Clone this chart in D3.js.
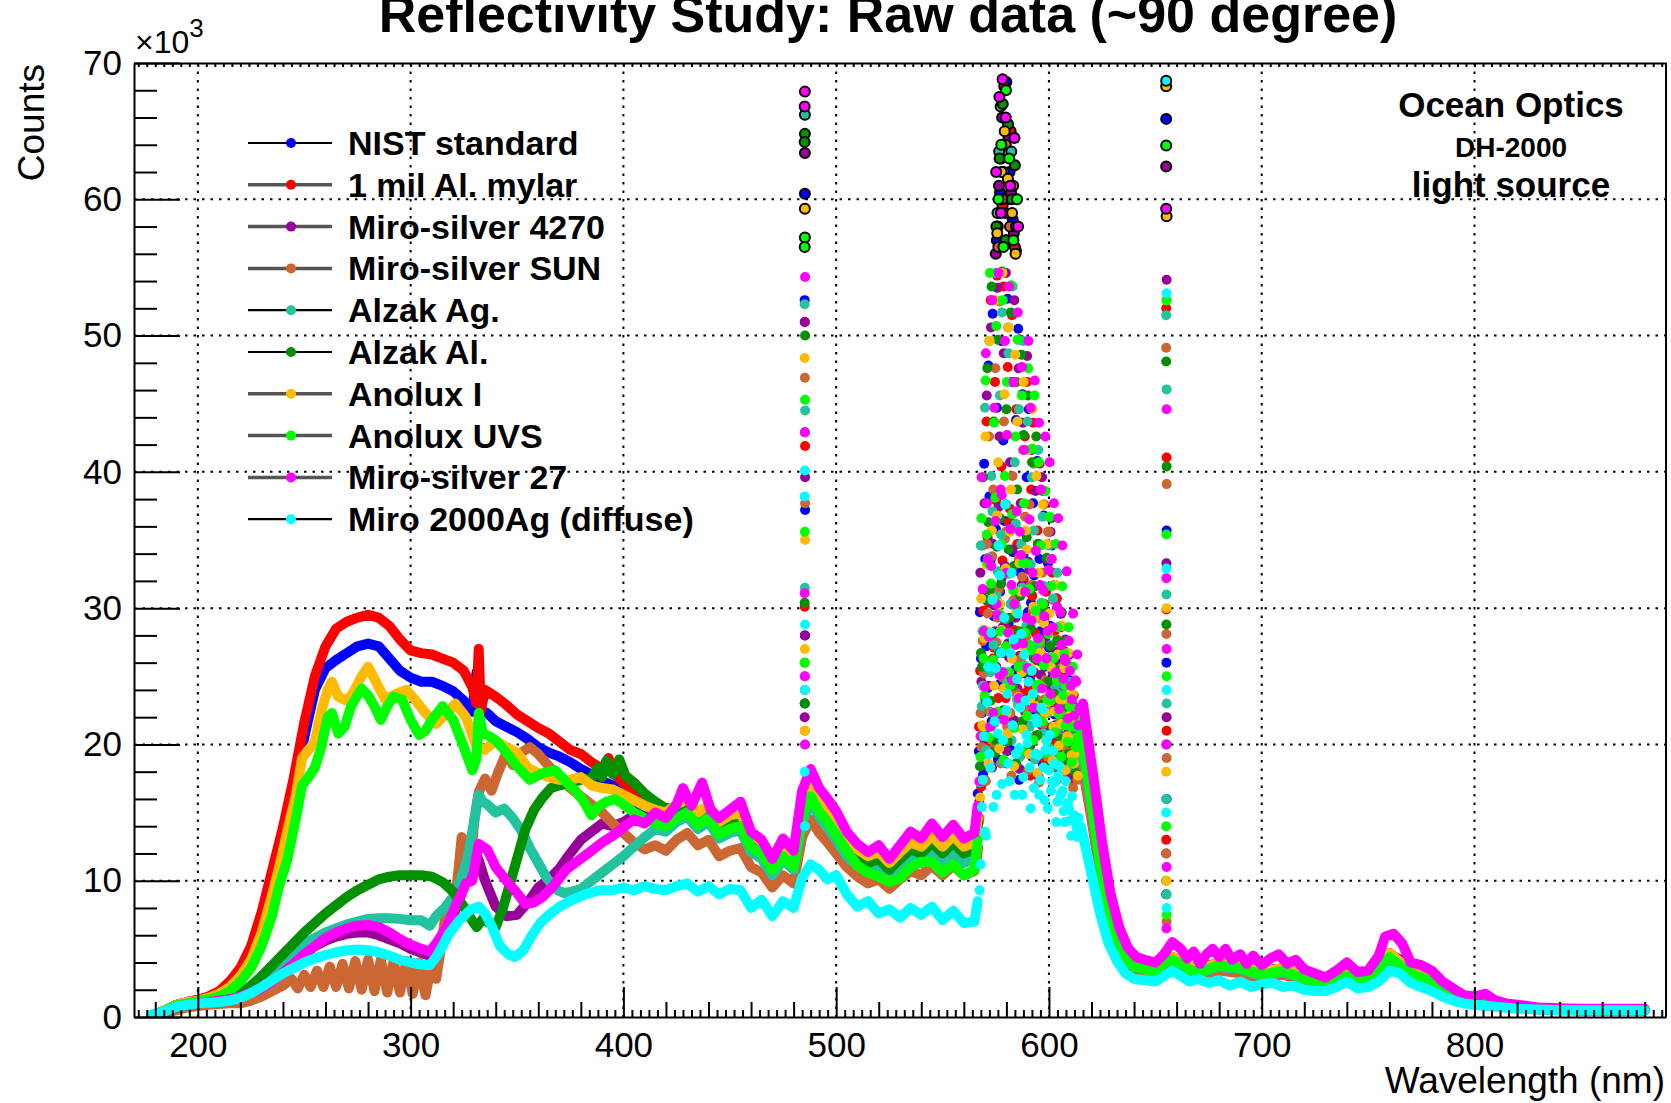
<!DOCTYPE html>
<html>
<head>
<meta charset="utf-8">
<script src="https://cdn.jsdelivr.net/npm/d3@7"></script>
<style>
  body { margin: 0; background: #fff; }
  svg { display: block; }
  text { font-family: "Liberation Sans", Arial, Helvetica, sans-serif; }
</style>
</head>
<body>
<svg id="chart"></svg>
<script>
const width = 1671, height = 1103;
const margin = { top: 63, right: 5, bottom: 86, left: 134 };

// Wavelength range (nm) and counts range (x10^3)
const xDomain = [170, 890];
const yDomain = [0, 70];
const xMajorTicks = [200, 300, 400, 500, 600, 700, 800];
const yMajorTicks = [0, 10, 20, 30, 40, 50, 60, 70];

const seriesNames = ["NIST standard", "1 mil Al. mylar", "Miro-silver 4270", "Miro-silver SUN",
  "Alzak Ag.", "Alzak Al.", "Anolux I", "Anolux UVS", "Miro-silver 27", "Miro 2000Ag (diffuse)"];
const seriesColors = ["#0000ff", "#ff0000", "#990099", "#cc6633", "#22c39f",
  "#009000", "#ffbb00", "#00ff00", "#ff00ff", "#00ffff"];

// Smooth parts of each spectrum: [wavelength nm, counts x10^3]; null = gap (saturated band)
const nist = [[178,0.1],[185,0.5],[190,0.9],[195,1.1],[200,1.25],[205,1.45],[210,1.8],[215,2.4],[220,3.3],[225,4.8],[230,7.0],[235,9.9],[240,13.0],[245,16.6],[250,20.5],[255,24.0],[260,25.6],[265,26.2],[270,26.7],[275,27.2],[280,27.4],[285,27.2],[290,26.3],[295,25.4],[300,24.9],[305,24.6],[310,24.6],[315,24.3],[320,23.9],[325,23.2],[329,22.4],[331,25.3],[333,22.5],[336,22.3],[340,21.7],[345,21.3],[350,20.9],[355,20.4],[360,19.8],[365,19.4],[370,19.1],[375,18.7],[380,18.2],[385,17.8],[390,17.3],[395,17.0],[400,16.5],[405,15.8],[410,15.3],[415,14.8],[420,14.6],[425,15.0],[430,15.3],[435,14.5],[440,14.9],[445,13.8],[450,14.1],[455,14.3],[460,12.8],[465,12.3],[470,11.0],[475,12.1],[480,11.3],[484,15.2],[488,16.6],[492,15.5],[496,14.7],[500,13.8],[505,12.6],[510,11.8],[515,11.3],[520,11.6],[525,10.8],[530,11.6],[535,12.3],[540,12.0],[545,12.8],[550,12.0],[555,12.8],[560,12.0],[565,12.3],[566.5,14],
  null,
  [615,21.5],[620,16.5],[624,12.0],[628,8.3],[632,6.0],[636,4.6],[640,3.9],[645,3.7],[650,3.5],[654,4.2],[658,4.3],[662,4.0],[666,3.6],[670,3.4],[675,3.8],[680,3.9],[685,3.5],[690,3.7],[695,3.2],[700,3.2],[705,3.5],[710,3.5],[715,2.9],[720,2.9],[725,2.6],[730,2.5],[735,3.0],[740,3.1],[745,2.7],[750,2.8],[755,3.5],[760,4.6],[765,4.2],[770,3.3],[775,3.0],[780,2.7],[785,2.2],[790,1.7],[795,1.4],[800,1.3],[810,1.0],[820,0.8],[830,0.6],[840,0.55],[850,0.5],[860,0.5],[870,0.5],[880,0.5]];

const mylar = [[178,0.1],[185,0.5],[190,0.9],[195,1.1],[200,1.25],[205,1.5],[210,1.9],[215,2.6],[220,3.6],[225,5.2],[230,7.7],[235,10.8],[240,13.9],[245,17.5],[250,21.6],[255,25.0],[260,27.2],[265,28.5],[270,29.0],[275,29.3],[280,29.5],[285,29.3],[290,28.7],[295,27.7],[300,26.9],[305,26.7],[310,26.6],[315,26.3],[320,26.0],[325,25.4],[329,24.2],[331,23.0],[332,27.0],[333,22.5],[335,24.0],[340,23.5],[345,22.9],[350,22.2],[355,21.7],[360,21.2],[365,20.8],[370,20.2],[375,19.6],[380,19.3],[385,18.7],[390,18.2],[393,19.0],[396,17.8],[400,17.2],[405,16.4],[410,15.9],[415,15.4],[420,15.1],[425,15.5],[430,15.8],[435,15.0],[440,15.4],[445,14.3],[450,14.6],[455,14.8],[460,13.3],[465,12.8],[470,11.4],[475,12.5],[480,11.7],[484,15.7],[488,17.2],[492,16.0],[496,15.2],[500,14.3],[505,13.0],[510,12.2],[515,11.7],[520,12.0],[525,11.2],[530,12.0],[535,12.7],[540,12.4],[545,13.2],[550,12.4],[555,13.2],[560,12.4],[565,12.7],[566.5,14.5],
  null,
  [615,22.0],[620,17.0],[624,12.4],[628,8.6],[632,6.2],[636,4.8],[640,4.0],[645,3.8],[650,3.6],[654,4.3],[658,4.4],[662,4.1],[666,3.7],[670,3.5],[680,4.0],[690,3.8],[700,3.3],[710,3.6],[720,3.0],[730,2.6],[740,3.2],[750,2.9],[760,4.7],[770,3.4],[780,2.8],[790,1.8],[800,1.3],[810,1.0],[820,0.8],[830,0.6],[840,0.55],[850,0.5],[860,0.5],[870,0.5],[880,0.5]];

const miro4270 = [[178,0.1],[185,0.4],[190,0.7],[195,0.9],[200,1.0],[205,1.1],[210,1.2],[215,1.3],[220,1.5],[225,1.8],[230,2.2],[235,2.7],[240,3.3],[245,4.0],[250,4.6],[255,5.2],[260,5.6],[265,5.9],[270,6.1],[275,6.2],[280,6.2],[285,6.0],[290,5.7],[295,5.4],[300,5.0],[305,4.7],[309,4.5],[313,5.2],[317,6.3],[321,7.8],[325,9.5],[328,11.2],[330,12.2],[332,11.5],[335,10.0],[340,8.1],[345,7.4],[350,7.5],[355,8.4],[360,9.5],[365,10.1],[370,10.9],[375,12.0],[380,13.0],[385,13.6],[390,14.2],[395,14.0],[400,14.3],[405,14.8],[410,14.5],[415,14.6],[420,14.2],[425,14.8],[430,15.2],[435,14.3],[440,14.8],[445,13.6],[450,14.0],[455,14.2],[460,12.6],[465,12.1],[470,10.8],[475,11.9],[480,11.1],[484,14.8],[488,16.3],[492,15.2],[496,14.4],[500,13.5],[505,12.3],[510,11.5],[515,11.0],[520,11.3],[525,10.5],[530,11.3],[535,12.0],[540,11.7],[545,12.5],[550,11.7],[555,12.5],[560,11.7],[565,12.0],[566.5,13.5],
  null,
  [615,21.0],[620,16.0],[624,11.5],[628,8.0],[632,5.8],[636,4.5],[640,3.8],[645,3.6],[650,3.4],[654,4.1],[658,4.2],[662,3.9],[666,3.5],[670,3.3],[680,3.8],[690,3.6],[700,3.1],[710,3.4],[720,2.8],[730,2.5],[740,3.0],[750,2.8],[760,4.5],[770,3.2],[780,2.6],[790,1.7],[800,1.2],[810,0.95],[820,0.75],[830,0.6],[840,0.55],[850,0.5],[860,0.5],[870,0.5],[880,0.5]];

const miroSun = [[178,0.1],[185,0.3],[190,0.5],[195,0.7],[200,0.8],[205,0.9],[210,0.95],[215,1.0],[220,1.0],[225,1.2],[230,1.5],[235,1.9],[240,2.3],[244,2.8],[247,2.1],[250,3.1],[253,2.2],[256,3.4],[259,2.2],[262,3.7],[265,2.2],[268,3.9],[271,2.1],[274,4.1],[277,2.0],[280,4.2],[283,1.9],[286,4.2],[289,1.8],[292,4.1],[295,1.8],[298,4.1],[301,1.7],[304,4.0],[307,1.6],[310,4.0],[312,2.8],[314,4.8],[317,8.2],[320,8.8],[322,10.0],[324,13.2],[326,12.8],[328,11.0],[330,14.5],[332,16.5],[335,17.5],[338,16.6],[341,17.9],[345,19.4],[348,18.5],[352,19.4],[356,19.8],[360,19.3],[365,18.4],[370,17.6],[375,16.8],[380,16.2],[385,15.6],[390,15.0],[395,14.2],[400,13.5],[405,12.8],[410,12.3],[415,12.6],[420,12.2],[425,13.0],[430,13.5],[435,12.6],[440,13.0],[445,11.8],[450,12.2],[455,12.4],[460,11.0],[465,10.6],[470,9.5],[475,10.4],[480,9.8],[484,13.2],[488,14.5],[492,13.5],[496,12.8],[500,12.0],[505,11.0],[510,10.3],[515,9.8],[520,10.1],[525,9.4],[530,10.1],[535,10.7],[540,10.4],[545,11.1],[550,10.4],[555,11.1],[560,10.4],[565,10.7],[566.5,12.0],
  null,
  [615,19.0],[620,14.5],[624,10.4],[628,7.2],[632,5.3],[636,4.1],[640,3.4],[645,3.2],[650,3.1],[654,3.7],[658,3.8],[662,3.5],[666,3.2],[670,3.0],[680,3.4],[690,3.2],[700,2.8],[710,3.1],[720,2.6],[730,2.2],[740,2.8],[750,2.5],[760,4.0],[770,2.9],[780,2.4],[790,1.5],[800,1.1],[810,0.9],[820,0.7],[830,0.55],[840,0.5],[850,0.5],[860,0.5],[870,0.5],[880,0.5]];

const alzakAg = [[178,0.1],[185,0.4],[190,0.7],[195,0.9],[200,1.0],[205,1.1],[210,1.2],[215,1.4],[220,1.7],[225,2.2],[230,2.8],[235,3.5],[240,4.2],[245,4.8],[250,5.4],[255,5.8],[260,6.2],[265,6.5],[270,6.8],[275,7.0],[280,7.2],[285,7.25],[290,7.25],[295,7.2],[300,7.1],[305,7.1],[309,6.7],[312,7.4],[316,8.0],[320,8.8],[324,10.2],[327,11.8],[330,14.5],[332,16.3],[334,15.8],[336,15.6],[340,15.0],[344,15.3],[348,14.6],[352,13.7],[356,12.4],[360,11.3],[364,10.2],[368,9.4],[372,9.1],[376,9.2],[380,9.4],[385,10.0],[390,10.6],[395,11.2],[400,11.8],[405,12.5],[410,13.2],[415,13.8],[420,13.6],[425,14.3],[430,14.7],[435,13.8],[440,14.3],[445,13.1],[450,13.5],[455,13.7],[460,12.1],[465,11.6],[470,10.4],[475,11.5],[480,10.8],[484,14.3],[488,15.8],[492,14.7],[496,13.9],[500,13.0],[505,11.8],[510,11.1],[515,10.6],[520,10.9],[525,10.2],[530,10.9],[535,11.6],[540,11.3],[545,12.0],[550,11.3],[555,12.0],[560,11.3],[565,11.6],[566.5,13.5],
  null,
  [615,20.5],[620,15.5],[624,11.2],[628,7.8],[632,5.7],[636,4.4],[640,3.7],[645,3.5],[650,3.3],[654,4.0],[658,4.1],[662,3.8],[666,3.4],[670,3.2],[680,3.7],[690,3.5],[700,3.0],[710,3.3],[720,2.8],[730,2.4],[740,2.9],[750,2.7],[760,4.3],[770,3.1],[780,2.5],[790,1.6],[800,1.2],[810,0.95],[820,0.75],[830,0.6],[840,0.5],[850,0.5],[860,0.5],[870,0.5],[880,0.5]];

const alzakAl = [[178,0.1],[185,0.4],[190,0.7],[195,0.9],[200,1.0],[205,1.1],[210,1.2],[215,1.4],[220,1.8],[225,2.3],[230,3.0],[235,3.8],[240,4.6],[245,5.4],[250,6.2],[255,6.9],[260,7.6],[265,8.2],[270,8.8],[275,9.3],[280,9.7],[285,10.1],[290,10.3],[295,10.4],[300,10.4],[305,10.4],[310,10.3],[315,9.9],[320,9.2],[325,8.1],[328,7.3],[331,6.6],[334,7.2],[337,6.9],[340,6.6],[343,7.8],[346,9.4],[350,11.6],[354,13.8],[358,15.2],[362,16.1],[366,16.8],[370,17.0],[375,17.2],[380,17.4],[385,17.5],[388,18.3],[390,17.6],[392,18.8],[395,17.8],[398,18.9],[401,17.7],[405,17.2],[410,16.4],[415,15.8],[420,15.3],[425,15.4],[430,15.6],[435,14.8],[440,15.1],[445,13.9],[450,14.3],[455,14.4],[460,12.9],[465,12.4],[470,11.1],[475,12.2],[480,11.4],[484,15.2],[488,16.7],[492,15.5],[496,14.7],[500,13.8],[505,12.6],[510,11.8],[515,11.3],[520,11.6],[525,10.8],[530,11.6],[535,12.3],[540,12.0],[545,12.8],[550,12.0],[555,12.8],[560,12.0],[565,12.3],[566.5,14.2],
  null,
  [615,21.5],[620,16.5],[624,12.0],[628,8.3],[632,6.0],[636,4.6],[640,3.9],[645,3.7],[650,3.5],[654,4.2],[658,4.3],[662,4.0],[666,3.6],[670,3.4],[680,3.9],[690,3.7],[700,3.2],[710,3.5],[720,2.9],[730,2.5],[740,3.1],[750,2.8],[760,4.6],[770,3.3],[780,2.7],[790,1.7],[800,1.3],[810,1.0],[820,0.8],[830,0.6],[840,0.55],[850,0.5],[860,0.5],[870,0.5],[880,0.5]];

const anoluxI = [[178,0.1],[185,0.5],[190,0.9],[195,1.1],[200,1.2],[205,1.4],[210,1.7],[215,2.2],[220,3.0],[225,4.2],[230,6.2],[235,9.0],[239,11.5],[243,14.3],[246,16.2],[249,19.0],[252,19.6],[255,20.2],[258,22.4],[261,24.0],[263,24.6],[266,23.5],[270,23.2],[273,23.8],[277,25.0],[280,25.7],[284,24.5],[288,23.3],[293,23.7],[298,24.0],[302,23.3],[307,22.3],[312,21.5],[317,22.3],[321,23.0],[326,22.0],[331,19.8],[335,19.6],[340,20.3],[345,19.8],[350,19.4],[355,18.3],[360,17.9],[365,17.6],[370,17.4],[375,17.4],[380,17.6],[385,17.0],[390,16.8],[395,16.7],[400,16.3],[405,15.9],[410,15.5],[415,15.2],[420,15.0],[425,15.6],[430,16.0],[435,15.0],[440,15.6],[445,14.3],[450,14.8],[455,15.0],[460,13.4],[465,12.9],[470,11.5],[475,12.6],[480,11.8],[484,15.8],[488,17.3],[492,16.1],[496,15.3],[500,14.4],[505,13.1],[510,12.3],[515,11.8],[520,12.1],[525,11.3],[530,12.1],[535,12.8],[540,12.5],[545,13.3],[550,12.5],[555,13.3],[560,12.5],[565,12.8],[566.5,14.6],
  null,
  [615,21.8],[620,16.8],[624,12.2],[628,8.5],[632,6.1],[636,4.7],[640,4.0],[645,3.8],[650,3.6],[654,4.3],[658,4.4],[662,4.1],[666,3.7],[670,3.5],[680,4.0],[690,3.8],[700,3.3],[710,3.6],[720,3.0],[730,2.6],[740,3.2],[750,2.9],[760,4.7],[770,3.4],[780,2.8],[790,1.8],[800,1.3],[810,1.0],[820,0.8],[830,0.6],[840,0.55],[850,0.5],[860,0.5],[870,0.5],[880,0.5]];

const anoluxUvs = [[178,0.1],[185,0.5],[190,0.85],[195,1.0],[200,1.15],[205,1.3],[210,1.5],[215,1.9],[220,2.6],[225,3.6],[230,5.2],[235,7.5],[238,9.5],[242,11.5],[246,14.5],[249,17.0],[252,17.6],[255,18.3],[258,19.8],[261,22.0],[263,22.3],[266,20.8],[269,21.3],[272,22.8],[277,24.1],[280,23.6],[283,22.8],[286,21.8],[289,22.8],[292,23.5],[296,23.3],[300,21.8],[304,20.7],[307,21.0],[310,21.8],[315,22.8],[320,21.8],[325,19.8],[329,18.1],[331,19.0],[332,22.3],[334,20.8],[337,20.6],[340,20.3],[344,19.6],[350,18.4],[356,17.4],[362,17.9],[368,18.1],[374,17.1],[378,16.5],[381,15.9],[385,14.8],[388,15.4],[392,15.8],[396,16.0],[400,15.6],[405,15.0],[410,14.6],[415,14.2],[420,14.0],[425,14.6],[430,15.0],[435,14.1],[440,14.6],[445,13.4],[450,13.8],[455,14.0],[460,12.5],[465,12.0],[470,10.8],[475,11.8],[480,11.0],[484,14.8],[488,16.2],[492,15.1],[496,14.3],[500,13.4],[505,12.2],[510,11.1],[515,10.6],[520,10.3],[525,9.9],[530,10.2],[535,11.0],[540,11.4],[545,11.4],[550,10.6],[555,11.2],[560,10.4],[565,10.8],[566.5,13.0],
  null,
  [615,21.0],[620,16.0],[624,11.4],[628,8.0],[632,5.8],[636,4.4],[640,3.7],[645,3.5],[650,3.3],[654,4.0],[658,4.2],[662,3.9],[666,3.5],[670,3.3],[680,3.8],[690,3.6],[700,3.1],[710,3.4],[720,2.8],[730,2.5],[740,3.0],[750,2.8],[760,4.4],[770,3.2],[780,2.6],[790,1.7],[800,1.2],[810,0.95],[820,0.75],[830,0.6],[840,0.55],[850,0.5],[860,0.5],[870,0.5],[880,0.5]];

const miro27 = [[178,0.1],[185,0.4],[190,0.75],[195,0.9],[200,1.0],[205,1.1],[210,1.2],[215,1.3],[220,1.5],[225,1.8],[230,2.1],[235,2.6],[240,3.2],[245,3.9],[250,4.6],[255,5.2],[260,5.8],[265,6.2],[270,6.5],[275,6.7],[280,6.75],[285,6.6],[290,6.2],[295,5.7],[300,5.3],[305,5.0],[309,4.8],[312,5.4],[317,6.6],[321,8.1],[326,9.8],[329,10.0],[332,12.7],[336,12.3],[340,11.0],[345,10.0],[350,9.1],[354,8.3],[358,8.4],[362,8.8],[367,9.6],[373,10.8],[379,11.5],[385,12.2],[390,12.8],[395,13.3],[400,13.9],[405,14.5],[410,14.2],[415,15.0],[420,14.6],[425,15.6],[428,16.8],[432,15.5],[437,17.2],[441,15.2],[445,14.6],[450,15.2],[455,15.8],[460,13.6],[465,13.0],[470,11.6],[475,13.1],[480,12.2],[484,16.6],[488,18.2],[492,16.8],[496,16.0],[500,15.1],[505,13.6],[510,12.7],[515,12.1],[520,12.6],[525,11.6],[530,12.6],[535,13.6],[540,13.1],[545,14.2],[550,13.2],[555,14.1],[560,13.1],[565,13.5],[566.5,15.5],
  null,
  [616,23.0],[621,17.5],[625,12.8],[629,9.0],[633,6.6],[637,5.1],[641,4.4],[645,4.2],[650,4.0],[654,4.6],[658,5.5],[662,5.0],[665,4.3],[668,4.8],[671,3.9],[674,4.6],[677,5.0],[680,4.4],[683,5.0],[686,4.2],[690,4.6],[693,3.9],[696,4.5],[700,3.8],[704,4.3],[708,4.6],[712,3.9],[716,4.2],[720,3.5],[725,3.2],[730,2.9],[735,3.4],[740,4.0],[745,3.3],[750,3.4],[755,4.5],[758,5.9],[762,6.1],[766,5.4],[770,4.0],[775,3.8],[780,3.4],[785,2.6],[790,2.1],[795,1.6],[800,1.5],[805,1.7],[810,1.2],[815,1.0],[820,0.9],[830,0.7],[840,0.65],[850,0.6],[860,0.6],[870,0.6],[880,0.6]];

const miro2000 = [[178,0.15],[185,0.45],[190,0.75],[195,0.9],[200,1.0],[205,1.05],[210,1.1],[215,1.2],[220,1.4],[225,1.75],[230,2.2],[235,2.7],[240,3.2],[245,3.6],[250,4.0],[255,4.3],[260,4.55],[265,4.75],[270,4.9],[275,4.95],[280,4.9],[285,4.75],[290,4.5],[295,4.2],[300,4.0],[305,3.85],[309,3.8],[312,4.4],[315,5.2],[318,6.1],[323,7.1],[328,7.85],[332,8.1],[335,7.6],[338,6.7],[342,5.2],[346,4.6],[349,4.4],[353,4.9],[357,6.0],[361,6.9],[365,7.5],[370,8.1],[376,8.6],[382,9.0],[389,9.3],[395,9.3],[400,9.5],[405,9.3],[410,9.6],[415,9.4],[420,9.3],[425,9.6],[430,9.8],[435,9.2],[440,9.6],[445,9.0],[450,9.4],[455,9.3],[460,8.0],[465,8.6],[470,7.4],[475,8.5],[480,8.0],[484,10.2],[488,11.2],[492,10.8],[496,10.1],[500,10.4],[505,9.0],[510,8.1],[515,8.5],[520,7.6],[525,7.9],[530,7.3],[535,8.0],[540,7.5],[545,8.1],[550,7.1],[555,7.8],[560,6.9],[565,7.0],[566.5,8.5],
  null,
  [615,14.0],[620,10.5],[624,7.6],[628,5.4],[632,4.1],[636,3.2],[640,2.8],[645,2.7],[650,2.6],[654,3.0],[658,3.4],[662,3.0],[666,2.6],[670,2.8],[675,2.5],[680,2.7],[685,2.3],[690,2.6],[695,2.2],[700,2.4],[705,2.5],[710,2.2],[715,2.3],[720,2.0],[725,1.9],[730,1.9],[735,2.2],[740,2.6],[745,2.1],[750,2.2],[755,2.6],[760,3.4],[765,3.2],[770,2.5],[775,2.2],[780,1.9],[785,1.5],[790,1.2],[795,1.0],[800,0.9],[810,0.75],[820,0.6],[830,0.55],[840,0.5],[850,0.5],[860,0.5],[870,0.5],[880,0.5]];

// Scattered readings in the saturated band (x10^3 counts), at these wavelengths
const cloudWavelengthsA = [567,568,569,570,571,572,573,574,575,576,577,578,579,580,581,582,583,584,585,586,587,588,589,590,
  591,592,593,594,595,596,597,598,599,600,601,602,603,604,605,606,607,608,609,610,611,612,613,614];
const cloudWavelengthsB = [567.5,568.5,569.5,570.5,571.5,572.5,573.5,574.5,575.5,576.5,577.5,578.5,579.5,580.5,581.5,582.5,
  583.5,584.5,585.5,586.5,587.5,588.5,589.5,590.5,591.5,592.5,593.5,594.5,595.5,596.5,597.5,598.5,599.5,600.5,601.5,602.5,
  603.5,604.5,605.5,606.5,607.5,608.5,609.5,610.5,611.5,612.5,613.5];

const nistCloudA = [16.4,29.7,22.3,40.6,27.2,47.8,33.5,51.6,38.3,44.7,24.4,49.6,42.3,29.2,52.7,36.4,46.6,21.3,43.8,50.5,32.6,45.7,25.2,39.6,44.6,30.4,37.7,22.5,40.8,33.6,27.4,36.8,20.6,33.3,28.7,34.6,22.2,30.7,26.4,29.6,19.5,26.8,23.3,24.7,18.4,22.8,20.2,21.6];
const mylarCloudA = [14.3,25.4,34.6,20.3,43.7,30.4,52.6,26.3,46.6,54.4,31.3,40.4,53.6,23.4,47.7,37.3,51.5,28.4,44.6,33.3,49.7,27.4,42.6,46.6,24.3,38.7,43.6,28.2,35.7,40.6,21.4,37.6,31.2,35.6,23.2,32.6,28.3,30.7,20.4,28.6,25.3,27.6,21.3,25.7,19.3,23.6,22.2,20.7];
const miro4270CloudA = [13.3,32.6,18.4,37.7,45.6,24.3,50.6,34.7,28.3,53.5,42.6,32.2,48.7,54.6,27.4,40.7,34.3,52.6,26.3,47.6,37.7,43.6,22.4,48.5,32.8,41.6,26.4,38.6,34.7,24.3,39.6,30.3,33.6,21.2,35.6,25.3,31.7,26.8,22.2,29.6,24.3,27.7,20.3,26.6,22.7,24.6,18.4,21.8];
const miroSunCloudA = [12.4,22.3,27.6,17.4,34.7,42.6,21.3,38.7,47.6,29.3,52.5,25.3,43.7,35.6,50.6,22.3,39.7,30.3,46.6,33.7,26.3,41.6,36.7,21.3,37.6,31.7,40.6,19.3,34.7,27.3,32.6,23.3,29.7,35.6,19.4,30.6,24.3,27.7,21.3,25.6,22.7,18.3,24.6,20.3,21.7,19.2,20.6,18.8];
const alzakAgCloudA = [15.3,34.6,24.3,44.7,19.3,49.6,39.7,27.3,54.6,32.7,45.6,51.7,25.3,37.6,48.7,30.3,53.6,40.7,23.3,44.6,34.7,49.6,28.3,43.7,21.3,39.6,35.7,29.3,41.6,24.3,36.7,31.6,20.3,34.6,27.3,30.7,24.3,32.6,21.3,28.7,25.6,22.3,26.7,20.3,24.6,21.7,20.8,19.6];
const alzakAlCloudA = [14.3,26.7,39.6,23.3,47.6,31.3,53.6,43.7,20.3,49.7,36.6,54.7,29.3,44.6,34.3,51.7,24.3,46.6,38.7,28.3,48.6,42.7,23.3,45.6,31.3,40.7,26.3,42.6,34.7,22.3,38.6,29.3,33.7,26.3,36.6,21.3,31.7,27.6,25.3,29.7,22.3,27.6,19.3,25.7,23.6,21.3,22.7,20.6];
const anoluxICloudA = [13.3,30.7,21.3,42.6,28.3,49.6,35.7,24.3,52.6,40.7,30.3,54.6,45.7,22.3,50.6,38.7,27.3,48.6,43.7,33.3,25.3,46.6,35.7,41.6,23.3,44.6,29.3,39.7,32.6,26.3,37.6,22.3,34.7,29.6,33.6,21.3,31.7,26.6,23.3,28.7,25.6,20.3,26.7,21.6,23.7,19.3,22.6,20.6];
const anoluxUvsCloudA = [15.3,36.6,26.3,46.7,33.3,54.6,22.3,43.6,50.7,34.6,28.3,52.6,39.7,46.6,25.3,53.7,31.3,42.6,49.7,23.3,45.6,37.7,33.3,47.6,27.3,41.7,45.6,24.3,40.7,34.6,30.3,38.6,23.3,36.7,31.6,26.3,34.7,28.6,22.3,31.6,26.7,24.3,28.6,21.3,25.7,22.6,20.3,21.7];
const miro27CloudA = [17.3,39.6,28.3,48.7,33.6,21.3,52.6,44.7,30.3,54.6,38.7,25.3,49.6,42.7,53.6,31.7,46.6,27.3,51.7,35.6,47.7,41.6,29.3,49.6,44.7,32.6,46.7,26.3,43.6,38.7,31.3,42.6,28.3,40.7,33.6,37.7,25.3,36.6,29.7,34.6,26.3,32.7,27.6,24.3,29.6,24.7,26.6,22.7];
const miro2000CloudA = [9.3,15.4,20.6,13.3,25.7,18.3,30.6,21.7,16.3,34.6,26.7,20.3,37.6,23.7,17.3,32.6,27.7,19.3,29.6,22.7,16.3,26.6,20.7,24.6,15.3,23.7,19.3,21.6,16.3,22.7,18.3,19.6,15.3,20.7,17.3,18.6,14.3,17.7,16.3,16.6,14.3,15.7,15.2,13.3,14.7,14.3,13.2,13.8];

const nistCloudB = [19.5,26.3,17.8,33.6,24.1,38.2,21.7,29.4,35.8,18.9,31.2,26.7,36.4,22.3,28.9,19.6,34.1,25.5,30.8,17.4,27.6,33.9,21.2,29.7,24.8,19.1,32.4,26.2,21.9,28.3,18.6,25.7,22.8,27.1,19.3,24.6,21.4,23.9,17.9,22.5,20.3,21.8,18.4,20.7,19.2,18.1,17.6];
const mylarCloudB = [21.3,16.9,29.8,25.4,35.2,19.7,31.6,27.1,37.9,23.4,20.2,33.5,28.8,18.6,36.3,24.9,30.4,21.7,34.7,26.5,19.4,32.1,23.8,28.6,17.7,30.9,25.3,20.6,27.4,22.9,29.1,18.8,26.3,23.5,20.1,25.8,19.6,22.7,21.3,24.2,18.5,21.9,19.8,20.4,17.3,19.1,18.2];
const miro4270CloudB = [15.8,24.6,31.3,20.4,27.9,34.8,18.3,30.2,25.7,37.4,22.1,28.6,33.1,19.5,26.4,35.9,21.8,29.3,24.1,18.2,31.7,27.3,22.6,33.4,19.9,26.8,23.2,29.5,17.6,25.1,21.4,27.7,19.2,24.3,22.5,20.7,25.9,18.4,23.1,20.6,22.2,19.4,21.1,17.8,20.2,18.7,19.3];
const miroSunCloudB = [14.6,19.8,25.2,17.3,29.6,22.4,33.8,20.1,27.5,31.4,18.6,24.9,35.1,21.3,28.2,17.7,30.6,23.8,26.1,19.2,32.3,22.7,27.9,18.1,25.4,29.8,20.6,23.3,17.2,26.6,21.5,24.7,19.1,22.4,18.3,23.6,20.8,18.9,21.7,17.5,20.3,19.6,18.2,19.4,16.8,18.1,17.4];
const alzakAgCloudB = [17.2,22.8,28.4,19.6,33.7,25.3,37.1,21.6,30.9,26.8,35.4,18.7,29.2,24.5,32.8,20.3,27.6,36.2,22.9,19.1,31.5,25.8,28.7,21.4,33.2,23.6,18.9,27.3,24.1,30.4,20.8,26.2,22.3,19.7,25.6,21.1,23.8,18.6,22.7,20.5,24.3,19.2,21.6,18.3,20.9,19.5,18.8];
const alzakAlCloudB = [18.4,25.7,20.9,30.6,36.3,23.2,28.1,19.4,34.5,26.7,31.8,22.5,37.6,20.2,29.3,24.8,33.1,18.6,27.4,30.9,21.7,25.3,35.2,19.8,28.5,23.4,31.6,20.7,26.1,22.9,29.8,18.3,24.6,27.2,21.3,23.7,19.5,25.4,20.4,22.6,18.9,21.8,20.1,19.3,21.2,17.9,19.7];
const anoluxICloudB = [16.1,21.4,27.8,33.2,18.6,25.9,30.7,22.3,36.8,19.7,28.4,24.1,32.9,20.8,35.6,26.3,18.4,29.7,23.5,31.2,21.1,27.1,34.3,19.3,25.6,30.1,22.8,17.9,26.7,24.2,28.9,20.3,23.1,25.7,18.8,22.4,24.9,19.9,21.5,23.3,18.1,20.6,22.1,19.2,18.6,20.4,17.7];
const anoluxUvsCloudB = [19.1,28.3,23.6,35.4,20.5,31.8,26.2,38.1,22.4,29.6,34.7,18.9,27.2,32.5,24.3,36.9,21.2,30.1,25.7,19.6,33.3,28.2,22.1,31.4,26.9,20.3,29.8,24.4,27.6,21.7,25.8,19.4,28.1,23.2,26.4,20.9,24.7,22.2,19.1,23.6,21.4,20.2,22.8,18.7,21.3,19.8,20.5];
const miro27CloudB = [20.6,31.4,24.2,37.7,27.9,33.1,22.3,36.4,29.5,25.1,38.3,21.8,32.6,28.2,35.8,24.7,30.3,37.1,23.4,33.9,27.4,31.2,25.6,36.5,29.1,22.7,34.2,27.8,31.7,24.1,29.4,26.3,32.8,23.7,28.6,25.2,30.1,22.6,27.3,24.8,26.1,21.9,25.4,23.3,22.1,24.6,21.4];
const miro2000CloudB = [11.2,17.4,13.6,23.1,19.3,28.2,15.4,25.6,20.8,32.4,17.1,29.3,22.5,18.6,26.7,21.4,16.3,24.8,19.7,28.1,17.6,23.2,20.1,18.3,25.4,16.8,21.9,19.2,17.4,22.6,15.9,20.3,18.1,16.6,19.5,17.2,15.8,18.4,16.4,15.1,17.3,15.6,14.4,16.2,14.8,13.9,14.6];

// Emission-line samples (486 nm, saturated top near 580 nm, 656 nm): [nm, counts x10^3]
const nistPeaks = [[485.3,60.4],[485.2,52.6],[485.4,37.2],[485.3,28.0],[485.2,23],
  [575.5,57],[577,60.5],[578.5,64],[580,68.6],[581.5,62],[583,58.5],[584.5,56.2],
  [655.1,65.9],[655.3,35.7],[655.2,26],[655.3,16],[655.1,9]];
const mylarPeaks = [[485.3,51.0],[485.4,41.9],[485.2,30.1],[485.3,24],
  [576,58],[577.5,63],[579,68.3],[580.5,60],[582,65],[584,56.5],[578.2,59.5],
  [655.1,52.0],[655.3,41.05],[655.2,29.9],[655.3,21],[655.1,13]];
const miro4270Peaks = [[485.3,63.4],[485.2,51.0],[485.4,39.6],[485.3,28.0],[485.2,22],
  [575,56],[576.5,61],[578,66],[579.5,59],[581,64.5],[583.5,57.5],[582.2,60.5],
  [655.1,62.4],[655.3,54.1],[655.2,33.3],[655.3,22],[655.1,12]];
const miroSunPeaks = [[485.3,46.9],[485.4,37.7],[485.2,26],[485.3,21],
  [576.2,56.5],[578,60],[579.7,64],[581.7,58],[583.2,61],
  [655.1,49.1],[655.3,39.1],[655.2,28.1],[655.3,19],[655.1,12],[655.3,7]];
const alzakAgPeaks = [[485.3,66.2],[485.2,52.3],[485.4,44.5],[485.3,31.5],[485.2,25],
  [575.8,59],[577.3,66.8],[578.8,62],[580.3,57],[582.3,63.5],[584.5,58],[576.6,63.5],
  [655.1,51.5],[655.3,46.05],[655.2,31],[655.3,23],[655.1,16],[655.3,9]];
const alzakAlPeaks = [[485.3,64.8],[485.2,64.2],[485.4,50.0],[485.3,42.9],[485.2,30.4],[485.3,23],
  [575.3,58],[576.8,63],[578.3,67],[580.8,65.5],[582.5,60],[584,62.5],[579.6,57],
  [655.1,48.1],[655.3,40.4],[655.2,28.8],[655.3,20],[655.1,10]];
const anoluxIPeaks = [[485.3,59.3],[485.2,48.35],[485.4,35.0],[485.3,27],[485.2,21],
  [575.7,57.5],[577.7,62],[579.2,65],[580.7,61.5],[582.7,59],[584.3,56],
  [655.1,68.3],[655.3,58.75],[655.2,52.6],[655.3,30],[655.1,18],[655.3,10]];
const anoluxUvsPeaks = [[485.3,57.2],[485.2,56.5],[485.4,45.3],[485.3,35.6],[485.2,26],[485.3,20],
  [576.3,60],[577.6,64],[579.8,68],[581.3,63],[583.3,57],[585,60],[578.6,56.5],
  [655.1,63.95],[655.3,52.6],[655.2,35.4],[655.3,25],[655.1,14],[655.3,7.5]];
const miro27Peaks = [[485.3,67.9],[485.2,66.8],[485.4,54.3],[485.3,42.9],[485.2,31.1],[485.3,25],[485.4,20],
  [575.2,62],[576.7,67.5],[578.2,68.8],[579.7,66],[581.8,61],[583.8,64.5],[585.5,58],[577.4,59],
  [655.1,59.3],[655.3,44.6],[655.2,32.2],[655.3,27],[655.1,20],[655.3,11],[655.2,6.5]];
const miro2000Peaks = [[485.3,40.1],[485.2,38.2],[485.4,28.8],[485.3,24],[485.2,18],[485.3,14],
  [655.1,68.7],[655.3,53.1],[655.2,32.9],[655.3,24],[655.1,15],[655.3,8]];

const seriesLines = [nist, mylar, miro4270, miroSun, alzakAg, alzakAl, anoluxI, anoluxUvs, miro27, miro2000];
const seriesCloudA = [nistCloudA, mylarCloudA, miro4270CloudA, miroSunCloudA, alzakAgCloudA, alzakAlCloudA,
  anoluxICloudA, anoluxUvsCloudA, miro27CloudA, miro2000CloudA];
const seriesCloudB = [nistCloudB, mylarCloudB, miro4270CloudB, miroSunCloudB, alzakAgCloudB, alzakAlCloudB,
  anoluxICloudB, anoluxUvsCloudB, miro27CloudB, miro2000CloudB];
const seriesPeaks = [nistPeaks, mylarPeaks, miro4270Peaks, miroSunPeaks, alzakAgPeaks, alzakAlPeaks,
  anoluxIPeaks, anoluxUvsPeaks, miro27Peaks, miro2000Peaks];
// legend line drawn grey & thicker for some entries (as in the original)
const legendGrey = [false, true, true, true, false, false, true, true, true, false];

const svg = d3.select("#chart")
    .attr("width", width)
    .attr("height", height)
    .style("background", "#fff");

const xScale = d3.scaleLinear()
    .domain(xDomain)
    .range([margin.left, width - margin.right]);

const yScale = d3.scaleLinear()
    .domain(yDomain)
    .range([height - margin.bottom, margin.top]);

const plotLeft = margin.left, plotRight = width - margin.right;
const plotTop = margin.top, plotBottom = height - margin.bottom;

svg.append("defs").append("clipPath").attr("id", "plotclip")
  .append("rect")
    .attr("x", plotLeft).attr("y", plotTop)
    .attr("width", plotRight - plotLeft).attr("height", plotBottom - plotTop);

// Dotted grid
const grid = svg.append("g").attr("stroke", "#000").attr("stroke-width", 2)
    .attr("stroke-dasharray", "2.5,6");
grid.selectAll("line.vx").data(xMajorTicks).enter().append("line")
    .attr("x1", d => xScale(d)).attr("x2", d => xScale(d))
    .attr("y1", plotTop).attr("y2", plotBottom);
grid.selectAll("line.hy").data(yMajorTicks.filter(d => d > 0 && d < 70)).enter().append("line")
    .attr("x1", plotLeft).attr("x2", plotRight)
    .attr("y1", d => yScale(d)).attr("y2", d => yScale(d));

// Data
const plot = svg.append("g").attr("clip-path", "url(#plotclip)");
const line = d3.line()
    .defined(d => d !== null)
    .x(d => xScale(d[0]))
    .y(d => yScale(d[1]));

function dots(g, data, color, dx) {
    g.append("g").selectAll("circle")
        .data(data)
        .enter().append("circle")
        .attr("cx", d => xScale(d[0] + dx))
        .attr("cy", d => yScale(d[1]))
        .attr("r", 5)
        .attr("fill", color)
        .attr("stroke", d => d[1] > 55.5 ? "#000" : "none")
        .attr("stroke-width", 2);
}

seriesLines.forEach(function(data, i) {
    plot.append("path")
        .datum(data)
        .attr("d", line)
        .attr("fill", "none")
        .attr("stroke", seriesColors[i])
        .attr("stroke-width", 10)
        .attr("stroke-linejoin", "round")
        .attr("stroke-linecap", "round");

    // small per-series shift so the dots of the saturated band interleave
    const shift = i * 0.1 - 0.45;
    dots(plot, d3.zip(cloudWavelengthsA, seriesCloudA[i]), seriesColors[i], shift);
    dots(plot, d3.zip(cloudWavelengthsB, seriesCloudB[i]), seriesColors[i], shift);
    dots(plot, seriesPeaks[i], seriesColors[i], 0);
});

// Axes (ROOT style: ticks pointing inwards)
function styleAxis(g) {
    g.selectAll("path, line").attr("stroke", "#000").attr("stroke-width", 2);
    g.selectAll("text").attr("fill", "#000").style("font-size", "35px")
        .style("font-family", "'Liberation Sans', Arial, sans-serif");
}

svg.append("g")
    .attr("transform", `translate(0, ${plotBottom})`)
    .call(d3.axisBottom(xScale).tickValues(xMajorTicks).tickSize(-30).tickSizeOuter(0).tickPadding(15))
    .call(styleAxis);
svg.append("g")
    .attr("transform", `translate(0, ${plotBottom})`)
    .call(d3.axisBottom(xScale).tickValues(d3.range(180, 890, 20).filter(d => d % 100 !== 0)).tickSize(-15).tickFormat(""))
    .call(g => g.select(".domain").remove())
    .call(styleAxis);
svg.append("g")
    .attr("transform", `translate(0, ${plotBottom})`)
    .call(d3.axisBottom(xScale).tickValues(d3.range(172, 890, 4).filter(d => d % 20 !== 0)).tickSize(-7).tickFormat(""))
    .call(g => g.select(".domain").remove())
    .call(styleAxis);

// top frame with small ticks
svg.append("g")
    .attr("transform", `translate(0, ${plotTop})`)
    .call(d3.axisTop(xScale).tickValues(d3.range(172, 890, 4)).tickSize(-4).tickSizeOuter(0).tickFormat(""))
    .call(styleAxis);

svg.append("g")
    .attr("transform", `translate(${plotLeft}, 0)`)
    .call(d3.axisLeft(yScale).tickValues(yMajorTicks).tickSize(-46).tickSizeOuter(0).tickPadding(12))
    .call(styleAxis);
svg.append("g")
    .attr("transform", `translate(${plotLeft}, 0)`)
    .call(d3.axisLeft(yScale).tickValues(d3.range(2, 70, 2).filter(d => d % 10 !== 0)).tickSize(-23).tickFormat(""))
    .call(g => g.select(".domain").remove())
    .call(styleAxis);

// right frame
svg.append("line")
    .attr("x1", plotRight).attr("x2", plotRight)
    .attr("y1", plotTop).attr("y2", plotBottom)
    .attr("stroke", "#000").attr("stroke-width", 2);

// Exponent label
const expo = svg.append("text").attr("x", plotLeft + 1).attr("y", 53)
    .style("font-size", "32px").attr("fill", "#000");
expo.append("tspan").text("\u00d710");
expo.append("tspan").attr("dy", -16).style("font-size", "26px").text("3");

// Titles
svg.append("text")
    .attr("x", 888).attr("y", 32)
    .attr("text-anchor", "middle")
    .style("font-size", "52px").style("font-weight", "bold")
    .text("Reflectivity Study: Raw data (~90 degree)");

svg.append("text")
    .attr("x", 1665).attr("y", 1093)
    .attr("text-anchor", "end")
    .style("font-size", "37px")
    .text("Wavelength (nm)");

svg.append("text")
    .attr("transform", "translate(44, 64) rotate(-90)")
    .attr("text-anchor", "end")
    .style("font-size", "37px")
    .text("Counts");

// Light source note
const note = [["Ocean Optics", 35, 117], ["DH-2000", 28, 157], ["light source", 35, 197]];
svg.selectAll(".note").data(note).enter().append("text")
    .attr("class", "note")
    .attr("x", 1511).attr("y", d => d[2])
    .attr("text-anchor", "middle")
    .style("font-size", d => d[1] + "px").style("font-weight", "bold")
    .text(d => d[0]);

// Legend
const legend = svg.selectAll(".legend")
    .data(seriesNames)
    .enter().append("g")
    .attr("class", "legend")
    .attr("transform", (d, i) => `translate(0, ${143 + i * 41.8})`);

legend.append("line")
    .attr("x1", 248).attr("x2", 332)
    .attr("stroke", (d, i) => legendGrey[i] ? "#555" : "#000")
    .attr("stroke-width", (d, i) => legendGrey[i] ? 3.5 : 2.2);

legend.append("circle")
    .attr("cx", 291).attr("r", 5)
    .attr("fill", (d, i) => seriesColors[i]);

legend.append("text")
    .attr("x", 348).attr("y", 12)
    .style("font-size", "34px").style("font-weight", "bold")
    .text(d => d);
</script>
</body>
</html>
